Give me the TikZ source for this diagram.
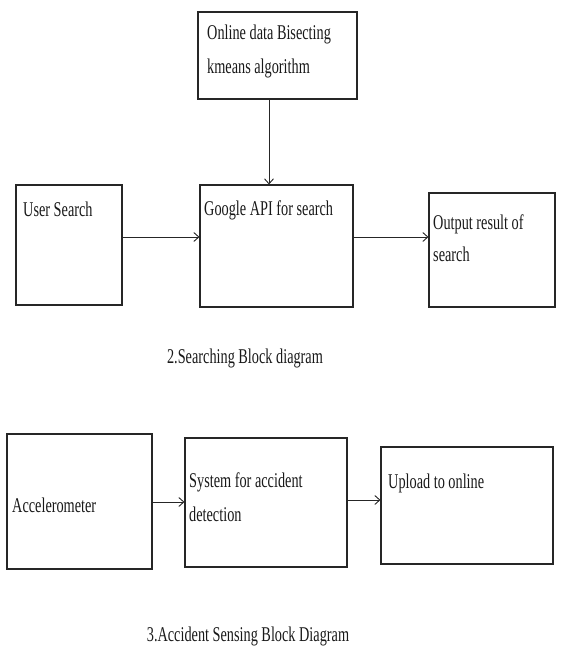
\documentclass[tikz,border=0pt]{standalone}
\usepackage{fontspec}
\setmainfont{Liberation Serif}[FakeStretch=0.68]
\usetikzlibrary{arrows.meta,fit}
\begin{document}
\begin{tikzpicture}[x=1pt,y=-1pt,
  box/.style={draw=black!85, line width=1.1pt, inner sep=0pt, fit={#1}},
  txt/.style={anchor=base west, inner sep=0pt, text=black!90, font=\fontsize{21}{25}\selectfont},
  captxt/.style={anchor=base, inner sep=0pt, text=black!90, font=\fontsize{21}{25}\selectfont},
  arr/.style={-{Straight Barb[length=5pt,width=9pt]}, line width=0.9pt, draw=black!85}]
\useasboundingbox (0,0) rectangle (564,647);
% boxes
\node[box={(198,12) (357,99)}] (top) {};
\node[box={(16,185) (122,305)}] (us) {};
\node[box={(200,185) (353,307)}] (gg) {};
\node[box={(429,193) (555,307)}] (out) {};
\node[box={(7,434) (152,569)}] (acc) {};
\node[box={(185,438) (347,567)}] (sys) {};
\node[box={(381,447) (553,564)}] (up) {};
% texts
\node[txt] (t1a) at (207,40) {Online data Bisecting};
\node[txt] (t1b) at (207,74) {kmeans algorithm};
\node[txt] (t2) at (23,216) {User Search};
\node[txt] (t3) at (204,215) {Google API for search};
\node[txt] (t4a) at (433,229) {Output result of};
\node[txt] (t4b) at (433,261) {search};
\node[captxt] (c2txt) at (245,363) {2.Searching Block diagram};
\node[txt] (t5) at (12,512) {Accelerometer};
\node[txt] (t6a) at (189,487) {System for accident};
\node[txt] (t6b) at (189,521) {detection};
\node[txt] (t7) at (388,488) {Upload to online};
\node[captxt] (c3txt) at (248,641) {3.Accident Sensing Block Diagram};
% connectors
\coordinate (k1) at (269,0);
\coordinate (k2) at (0,237);
\coordinate (k3) at (0,502);
\coordinate (k4) at (0,500);
\draw[arr] (top.south -| k1) -- (gg.north -| k1);
\draw[arr] (us.east |- k2) -- (gg.west |- k2);
\draw[arr] (gg.east |- k2) -- (out.west |- k2);
\draw[arr] (acc.east |- k3) -- (sys.west |- k3);
\draw[arr] (sys.east |- k4) -- (up.west |- k4);
\end{tikzpicture}
\end{document}
